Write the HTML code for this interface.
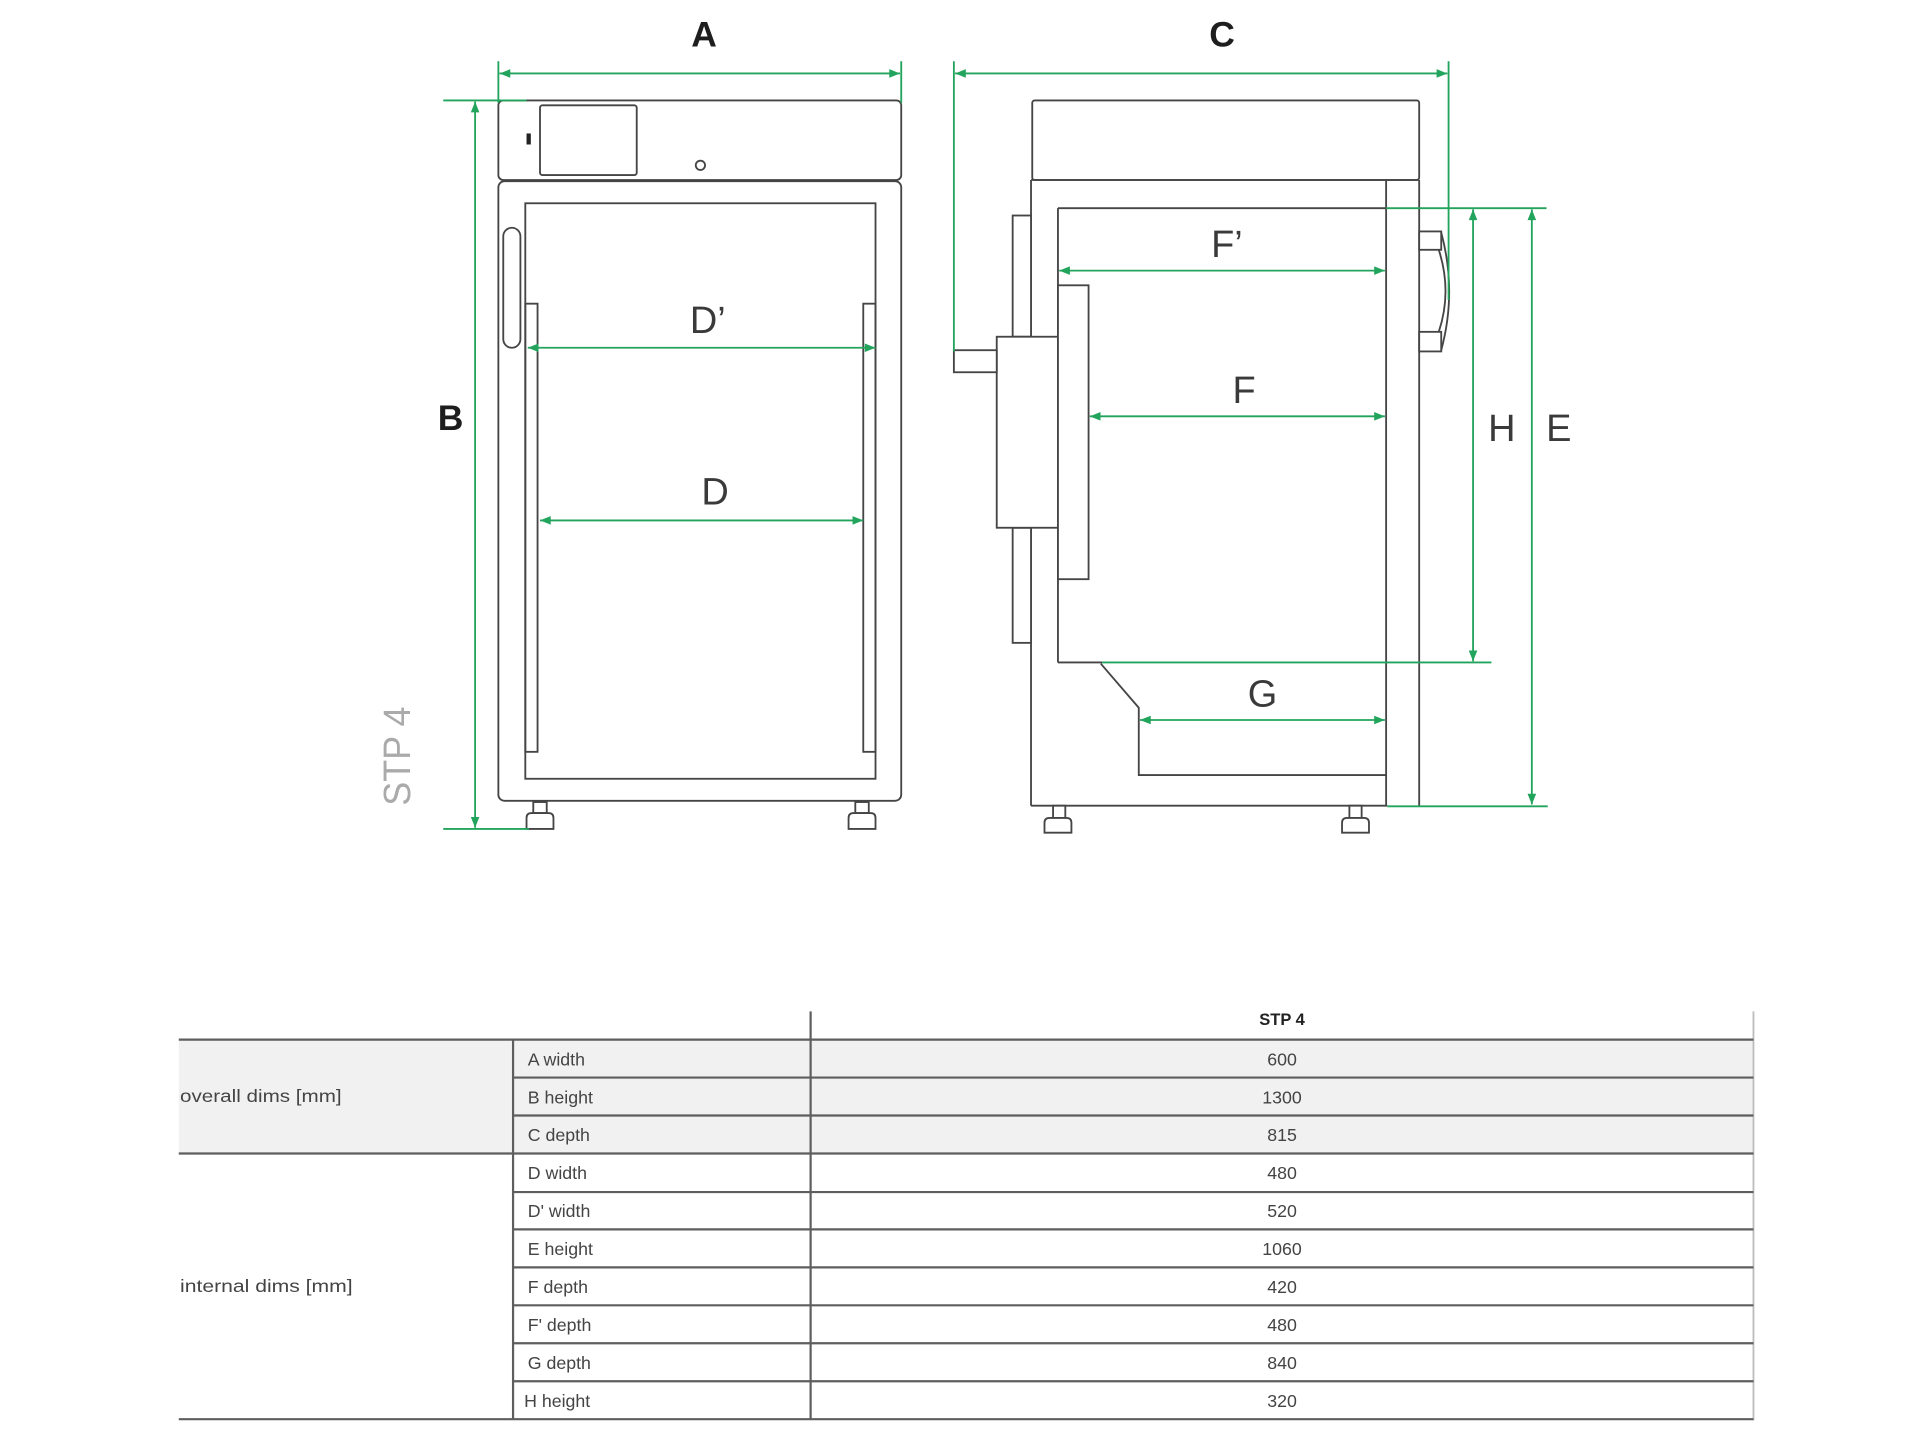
<!DOCTYPE html>
<html>
<head>
<meta charset="utf-8">
<style>
  html, body { margin: 0; padding: 0; background: #fff; }
  svg { display: block; }
  .cab { fill: none; stroke: #454545; stroke-width: 1.5; }
  .cabw { fill: #fff; stroke: #454545; stroke-width: 1.5; }
  .gr { fill: none; stroke: #22a45d; stroke-width: 1.5; }
  .lbl { font-family: "Liberation Sans", sans-serif; fill: #3a3a3a; font-size: 31px; }
  .blbl { font-family: "Liberation Sans", sans-serif; fill: #1e1e1e; font-size: 29px; font-weight: bold; }
  .tt { font-family: "Liberation Sans", sans-serif; fill: #444; font-size: 14.5px; }
  .tl { stroke: #5e5e5e; stroke-width: 1.8; }
</style>
</head>
<body>
<svg width="1920" height="1440" viewBox="0 0 1568 1176" xmlns="http://www.w3.org/2000/svg">
  <defs>
    <marker id="ar" viewBox="0 0 10 8" refX="10" refY="4" markerWidth="9" markerHeight="7" markerUnits="userSpaceOnUse" orient="auto-start-reverse">
      <path d="M0,0 L10,4 L0,8 Z" fill="#22a45d"/>
    </marker>
  </defs>
  <rect width="1568" height="1176" fill="#fff"/>

  <!-- ================= FRONT VIEW ================= -->
  <!-- top panel -->
  <rect class="cab" x="407" y="82" width="329" height="65" rx="4"/>
  <rect class="cab" x="441" y="86" width="79" height="57" rx="2"/>
  <rect x="430" y="109" width="3.5" height="9" fill="#222"/>
  <circle class="cab" cx="572" cy="135" r="3.8"/>
  <!-- body -->
  <rect class="cab" x="407" y="148" width="329" height="506" rx="5"/>
  <rect class="cab" x="429" y="166" width="286" height="470"/>
  <!-- handle -->
  <rect class="cab" x="411" y="186" width="14" height="98" rx="7"/>
  <!-- rails -->
  <rect class="cab" x="429" y="248" width="10" height="366"/>
  <rect class="cab" x="705" y="248" width="10" height="366"/>
  <!-- feet -->
  <rect class="cabw" x="435.5" y="655" width="11" height="9"/>
  <path class="cabw" d="M430,677 L430,668 Q430,664 434,664 L448,664 Q452,664 452,668 L452,677 Z"/>
  <rect class="cabw" x="698.5" y="655" width="11" height="9"/>
  <path class="cabw" d="M693,677 L693,668 Q693,664 697,664 L711,664 Q715,664 715,668 L715,677 Z"/>

  <!-- front dimensions -->
  <line class="gr" x1="407" y1="50" x2="407" y2="84"/>
  <line class="gr" x1="736" y1="50" x2="736" y2="84"/>
  <line class="gr" x1="408" y1="60" x2="735" y2="60" marker-start="url(#ar)" marker-end="url(#ar)"/>
  <line class="gr" x1="362" y1="82" x2="430" y2="82"/>
  <line class="gr" x1="362" y1="677" x2="432" y2="677"/>
  <line class="gr" x1="388" y1="83" x2="388" y2="676" marker-start="url(#ar)" marker-end="url(#ar)"/>
  <line class="gr" x1="431" y1="284" x2="715" y2="284" marker-start="url(#ar)" marker-end="url(#ar)"/>
  <line class="gr" x1="441" y1="425" x2="705" y2="425" marker-start="url(#ar)" marker-end="url(#ar)"/>

  <text class="blbl" x="575" y="38" text-anchor="middle">A</text>
  <text class="blbl" x="368" y="351" text-anchor="middle">B</text>
  <text class="lbl" x="578" y="272" text-anchor="middle">D’</text>
  <text class="lbl" x="584" y="412" text-anchor="middle">D</text>
  <text font-family="Liberation Sans, sans-serif" font-size="31" fill="#aaaaaa" transform="translate(335,658) rotate(-90)" textLength="81" lengthAdjust="spacingAndGlyphs">STP 4</text>

  <!-- ================= SIDE VIEW ================= -->
  <!-- top panel -->
  <rect class="cab" x="843" y="82" width="316" height="65" rx="2"/>
  <!-- body -->
  <line class="cab" x1="842" y1="147" x2="1159" y2="147"/>
  <line class="cab" x1="842" y1="147" x2="842" y2="658"/>
  <line class="cab" x1="842" y1="658" x2="1133" y2="658"/>
  <line class="cab" x1="1132" y1="147" x2="1132" y2="658"/>
  <line class="cab" x1="1159" y1="147" x2="1159" y2="659"/>
  <!-- inner cavity -->
  <line class="cab" x1="864" y1="170" x2="1132" y2="170"/>
  <line class="cab" x1="864" y1="170" x2="864" y2="541"/>
  <line class="cab" x1="864" y1="541" x2="900" y2="541"/>
  <path class="cab" d="M899,542 L930,578 L930,633 L1132,633"/>
  <!-- gaskets -->
  <rect class="cabw" x="827" y="176" width="15" height="99"/>
  <rect class="cabw" x="827" y="431" width="15" height="94"/>
  <!-- door panel -->
  <rect class="cabw" x="814" y="275" width="50" height="156"/>
  <!-- handle stub -->
  <rect class="cabw" x="779" y="286" width="35" height="18"/>
  <!-- inner block -->
  <rect class="cabw" x="864" y="233" width="25" height="240"/>
  <!-- right handle -->
  <rect class="cabw" x="1159" y="189" width="18" height="15"/>
  <rect class="cabw" x="1159" y="271" width="18" height="16"/>
  <path class="cab" d="M1177,190 Q1190,238 1177,286"/>
  <path class="cab" d="M1175,204 Q1186,238 1175,271" stroke-width="1.1"/>
  <!-- side feet -->
  <rect class="cabw" x="860" y="658" width="10" height="10"/>
  <path class="cabw" d="M853,680 L853,672 Q853,668 857,668 L871,668 Q875,668 875,672 L875,680 Z"/>
  <rect class="cabw" x="1102" y="658" width="10" height="10"/>
  <path class="cabw" d="M1096,680 L1096,672 Q1096,668 1100,668 L1114,668 Q1118,668 1118,672 L1118,680 Z"/>

  <!-- side dimensions -->
  <line class="gr" x1="779" y1="50" x2="779" y2="287"/>
  <line class="gr" x1="1183" y1="50" x2="1183" y2="245"/>
  <line class="gr" x1="780" y1="60" x2="1182" y2="60" marker-start="url(#ar)" marker-end="url(#ar)"/>
  <line class="gr" x1="865" y1="221" x2="1131" y2="221" marker-start="url(#ar)" marker-end="url(#ar)"/>
  <line class="gr" x1="890" y1="340" x2="1131" y2="340" marker-start="url(#ar)" marker-end="url(#ar)"/>
  <line class="gr" x1="931" y1="588" x2="1131" y2="588" marker-start="url(#ar)" marker-end="url(#ar)"/>
  <line class="gr" x1="1132" y1="170" x2="1263" y2="170"/>
  <line class="gr" x1="900" y1="541" x2="1218" y2="541"/>
  <line class="gr" x1="1133" y1="658.5" x2="1264" y2="658.5"/>
  <line class="gr" x1="1203" y1="171" x2="1203" y2="540" marker-start="url(#ar)" marker-end="url(#ar)"/>
  <line class="gr" x1="1251" y1="171" x2="1251" y2="657" marker-start="url(#ar)" marker-end="url(#ar)"/>

  <text class="blbl" x="998" y="38" text-anchor="middle">C</text>
  <text class="lbl" x="1002" y="210" text-anchor="middle">F’</text>
  <text class="lbl" x="1016" y="329" text-anchor="middle">F</text>
  <text class="lbl" x="1031" y="577" text-anchor="middle">G</text>
  <text class="lbl" x="1226.5" y="360" text-anchor="middle">H</text>
  <text class="lbl" x="1273" y="360" text-anchor="middle">E</text>

  <!-- ================= TABLE ================= -->
  <rect x="146" y="849" width="1286" height="93" fill="#f1f1f1"/>
  <!-- verticals -->
  <line class="tl" x1="419" y1="849" x2="419" y2="1159"/>
  <line class="tl" x1="662" y1="826" x2="662" y2="1159"/>
  <line x1="1432" y1="826" x2="1432" y2="1160" stroke="#bdbdbd" stroke-width="1.5"/>
  <!-- horizontals full -->
  <line class="tl" x1="146" y1="849" x2="1432" y2="849"/>
  <line class="tl" x1="146" y1="942" x2="1432" y2="942"/>
  <line class="tl" x1="146" y1="1159" x2="1432" y2="1159"/>
  <!-- row separators -->
  <line class="tl" x1="419" y1="880" x2="1432" y2="880"/>
  <line class="tl" x1="419" y1="911" x2="1432" y2="911"/>
  <line class="tl" x1="419" y1="973.5" x2="1432" y2="973.5"/>
  <line class="tl" x1="419" y1="1004" x2="1432" y2="1004"/>
  <line class="tl" x1="419" y1="1035" x2="1432" y2="1035"/>
  <line class="tl" x1="419" y1="1066" x2="1432" y2="1066"/>
  <line class="tl" x1="419" y1="1097" x2="1432" y2="1097"/>
  <line class="tl" x1="419" y1="1128" x2="1432" y2="1128"/>

  <text x="1047" y="837" text-anchor="middle" font-family="Liberation Sans, sans-serif" font-size="13.5" font-weight="bold" fill="#222">STP 4</text>

  <text class="tt" x="147" y="900" textLength="132" lengthAdjust="spacingAndGlyphs">overall dims [mm]</text>
  <text class="tt" x="147" y="1055" textLength="141" lengthAdjust="spacingAndGlyphs">internal dims [mm]</text>

  <g class="tt">
    <text class="tt" x="431" y="870">A width</text>
    <text class="tt" x="431" y="901">B height</text>
    <text class="tt" x="431" y="932">C depth</text>
    <text class="tt" x="431" y="963">D width</text>
    <text class="tt" x="431" y="994">D' width</text>
    <text class="tt" x="431" y="1025">E height</text>
    <text class="tt" x="431" y="1056">F depth</text>
    <text class="tt" x="431" y="1087">F' depth</text>
    <text class="tt" x="431" y="1118">G depth</text>
    <text class="tt" x="428" y="1149">H height</text>
  </g>
  <g text-anchor="middle">
    <text class="tt" x="1047" y="870" text-anchor="middle">600</text>
    <text class="tt" x="1047" y="901" text-anchor="middle">1300</text>
    <text class="tt" x="1047" y="932" text-anchor="middle">815</text>
    <text class="tt" x="1047" y="963" text-anchor="middle">480</text>
    <text class="tt" x="1047" y="994" text-anchor="middle">520</text>
    <text class="tt" x="1047" y="1025" text-anchor="middle">1060</text>
    <text class="tt" x="1047" y="1056" text-anchor="middle">420</text>
    <text class="tt" x="1047" y="1087" text-anchor="middle">480</text>
    <text class="tt" x="1047" y="1118" text-anchor="middle">840</text>
    <text class="tt" x="1047" y="1149" text-anchor="middle">320</text>
  </g>
</svg>
</body>
</html>
